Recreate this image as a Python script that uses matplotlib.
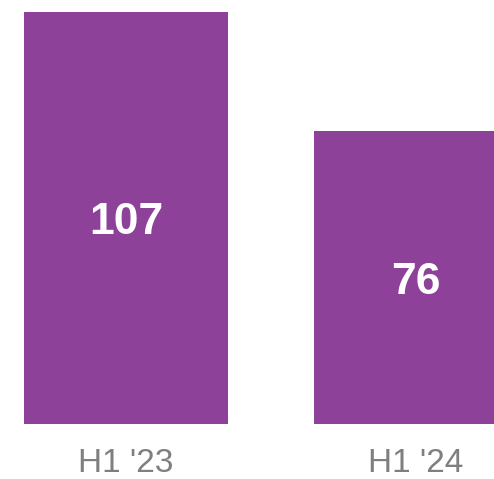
import matplotlib.pyplot as plt

periods = ["H1 '23", "H1 '24"]
values = [107, 76]

fig = plt.figure(figsize=(4.94, 4.79), dpi=100)
ax = fig.add_axes([0, 55 / 479, 1, 424 / 479])

bars = ax.bar(range(len(values)), values, width=0.703, color='#8D4199')
for i, v in enumerate(values):
    ax.text(i, v / 2, str(v), ha='center', va='center_baseline', color='white',
            fontsize=32, fontweight='bold', family='Liberation Sans')

ax.set_xlim(-0.4345, 1.269)
ax.set_ylim(0, 110.04)
ax.set_xticks(range(len(values)))
ax.set_xticklabels(periods, fontsize=24, color='#7f7f7f', family='Liberation Sans')
ax.tick_params(axis='x', length=0, pad=17)
ax.set_yticks([])
for s in ax.spines.values():
    s.set_visible(False)

fig.savefig('out.png', dpi=100)
